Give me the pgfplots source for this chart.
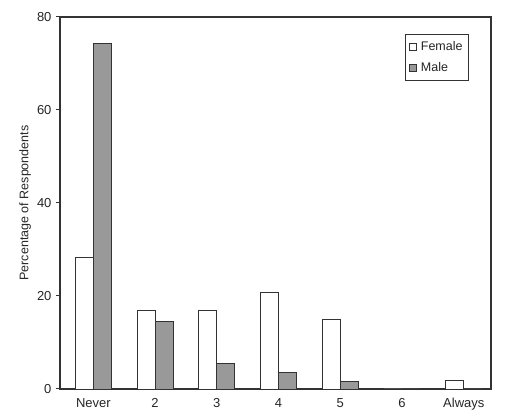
\documentclass[border=0pt]{standalone}
\usepackage{pgfplots}
\pgfplotsset{compat=1.18}
\usepackage{fontspec}
\setmainfont{Liberation Sans}
\definecolor{edge}{HTML}{333333}
\definecolor{malefill}{HTML}{999999}
\begin{document}
\fontsize{13}{15}\selectfont
\begin{tikzpicture}
\begin{axis}[
  at={(0,0)}, anchor=south west,
  scale only axis,
  width=431pt, height=372pt,
  ybar=0pt, bar width=18pt,
  xmin=-0.54, xmax=6.44,
  ymin=0, ymax=80,
  xtick={0,1,2,3,4,5,6},
  xticklabels={Never,2,3,4,5,6,Always},
  xtick style={draw=none},
  ytick={0,20,40,60,80},
  ytick pos=left,
  tick align=outside,
  major tick length=4pt,
  axis line style={draw=edge, line width=1.1pt},
  ytick style={draw=edge, line width=1pt},
  /pgf/number format/assume math mode=true,
  tick label style={font=\fontsize{13}{15}\selectfont, text=black!85},
  xticklabel style={yshift=-1pt},
  ylabel={Percentage of Respondents},
  ylabel style={at={(axis description cs:-0.081,0.5)}, anchor=center, rotate=0, font=\fontsize{12.5}{14}\selectfont, text=black!85},
  legend style={at={(0.949,0.954)}, anchor=north east, draw=edge, line width=0.9pt,
    font=\fontsize{12.5}{14}\selectfont, text=black!85, row sep=6pt, inner xsep=4pt, inner ysep=5pt,
    cells={anchor=west}},
  legend image code/.code={\draw[#1, line width=0.8pt] (0pt,-3.5pt) rectangle (7pt,3.5pt); \path (9pt,0pt);},
]
\addplot[fill=white, draw=edge, line width=0.9pt] coordinates {
  (0,28.3) (1,16.9) (2,16.9) (3,20.8) (4,15.0) (5,0) (6,1.8)
};
\addplot[fill=malefill, draw=edge, line width=0.9pt] coordinates {
  (0,74.4) (1,14.5) (2,5.4) (3,3.5) (4,1.7) (5,0) (6,0)
};
\legend{Female,Male}
\end{axis}
\path (-60pt,-26pt) rectangle (446pt,389pt);
\end{tikzpicture}
\end{document}
